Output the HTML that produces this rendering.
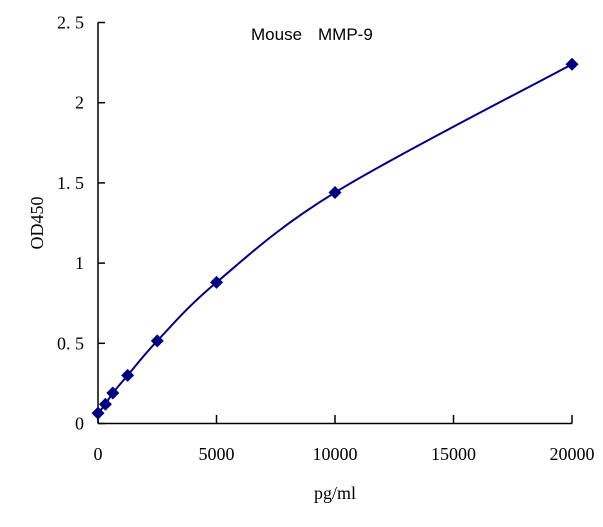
<!DOCTYPE html>
<html><head><meta charset="utf-8"><style>
html,body{margin:0;padding:0;background:#fff;width:603px;height:527px;overflow:hidden}
svg text{font-family:"Liberation Serif","Noto Serif CJK SC",serif;font-size:18px;fill:#000}
</style></head><body>
<svg id="chart" width="603" height="527" xmlns="http://www.w3.org/2000/svg">
<text x="251" y="40" style="font-family:'Liberation Sans',sans-serif;font-size:17px">Mouse<tspan x="318">MMP-9</tspan></text>
<text x="335" y="499" text-anchor="middle">pg/ml</text>
<text transform="translate(43,223) rotate(-90)" text-anchor="middle">OD450</text>
<g id="axes"></g><g id="series"></g>
</svg>
<script>
const concentrations=[0,312.5,625,1250,2500,5000,10000,20000];
const odValues=[0.065,0.12,0.19,0.30,0.515,0.88,1.44,2.24];
const xTicks=[0,5000,10000,15000,20000];
const yTicks=[0,0.5,1,1.5,2,2.5];
const yTickLabels=["0","0. 5","1","1. 5","2","2. 5"];
const NS="http://www.w3.org/2000/svg";
const X=v=>98+v/20000*474;
const Y=v=>423.5-v/2.5*401;
function mk(t,a,p){const e=document.createElementNS(NS,t);for(const k in a)e.setAttribute(k,a[k]);p.appendChild(e);return e;}
const axes=document.getElementById('axes'),ser=document.getElementById('series');
const ax=mk('line',{x1:98,y1:Y(2.5),x2:98,y2:423.5,stroke:'#000','stroke-width':1.5},axes);

const bx=mk('line',{x1:98,y1:423.5,x2:X(20000),y2:423.5,stroke:'#000','stroke-width':1.5},axes);

yTicks.forEach((v,i)=>{
 const t=mk('line',{x1:98,y1:Y(v),x2:105,y2:Y(v),stroke:'#000','stroke-width':1.5},axes);
 
 const l=mk('text',{x:84,y:Y(v)+6,'text-anchor':'end'},axes);l.textContent=yTickLabels[i];
 
});
xTicks.forEach(v=>{
 const t=mk('line',{x1:X(v),y1:423.5,x2:X(v),y2:415,stroke:'#000','stroke-width':1.5},axes);
 
 const l=mk('text',{x:X(v),y:460,'text-anchor':'middle'},axes);l.textContent=String(v);
 
});
const pts=concentrations.map((c,i)=>[X(c),Y(odValues[i])]);
let d='M'+pts[0][0]+','+pts[0][1];
for(let i=0;i<pts.length-1;i++){
 const p0=pts[Math.max(0,i-1)],p1=pts[i],p2=pts[i+1],p3=pts[Math.min(pts.length-1,i+2)];
 const c1=[p1[0]+(p2[0]-p0[0])/6,p1[1]+(p2[1]-p0[1])/6],c2=[p2[0]-(p3[0]-p1[0])/6,p2[1]-(p3[1]-p1[1])/6];
 d+=` C${c1[0]},${c1[1]} ${c2[0]},${c2[1]} ${p2[0]},${p2[1]}`;
}
const ln=mk('path',{d:d,fill:'none',stroke:'#000080','stroke-width':2},ser);

pts.forEach(p=>{
 const s=6.5;
 const m=mk('polygon',{points:`${p[0]},${p[1]-s} ${p[0]+s},${p[1]} ${p[0]},${p[1]+s} ${p[0]-s},${p[1]}`,fill:'#000080'},ser);
 
});
</script>
</body></html>
